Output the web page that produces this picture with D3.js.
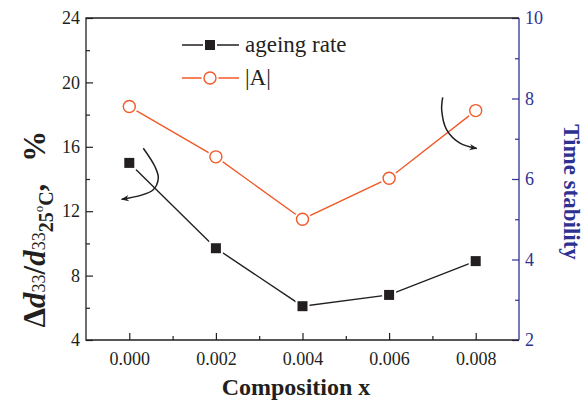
<!DOCTYPE html>
<html><head><meta charset="utf-8">
<script src="https://cdn.jsdelivr.net/npm/d3@7"></script>
<style>body{margin:0;background:#fff}svg{display:block}svg text{font-family:"Liberation Serif","Times New Roman",Times,serif !important}</style>
</head><body><svg id="c" width="584" height="401"></svg>
<script>
const composition = [0.000, 0.002, 0.004, 0.006, 0.008];
const ageingRate = [15.0, 9.7, 6.1, 6.8, 8.9];
const absA = [7.8, 6.55, 5.0, 6.02, 7.7];
const xTicks = [0.000, 0.002, 0.004, 0.006, 0.008];
const xMinorTicks = [0.001, 0.003, 0.005, 0.007];
const yLeftTicks = [4, 8, 12, 16, 20, 24];
const yLeftMinor = [6, 10, 14, 18, 22];
const yRightTicks = [2, 4, 6, 8, 10];
const yRightMinor = [3, 5, 7, 9];
const seriesNames = ["ageing rate", "|A|"];
// curved annotation arrows: [composition, left-axis value] and [composition, right-axis value]
const arrowLeft = [[0.000323,15.91],[0.000594,14.76],[0.00067,14.06],[0.000547,13.32],[-0.000176,12.74]];
const arrowRight = [[0.007238,8.03],[0.007215,7.71],[0.00733,7.22],[0.007637,6.89],[0.008023,6.76]];

const BLACK="#231f20", RED="#f15a29", BLUE="#2e3192";
const svg=d3.select("#c");
const L=86,R=519,T=18,B=340;
const x=d3.scaleLinear().domain([-0.001,0.009]).range([L,R]);
const yL=d3.scaleLinear().domain([4,24]).range([B,T]);
const yR=d3.scaleLinear().domain([2,10]).range([B,T]);

const defs=svg.append("defs");
defs.append("marker").attr("id","ah").attr("viewBox","0 0 10 10").attr("refX",9).attr("refY",5)
 .attr("markerWidth",11).attr("markerHeight",8).attr("markerUnits","userSpaceOnUse").attr("orient","auto")
 .append("path").attr("d","M0,1 L10,5 L0,9 L3,5 Z").attr("fill",BLACK);

function ax(gen,tr,cls){
  const g=svg.append("g").attr("transform",tr).attr("class",cls).call(gen);
  g.select(".domain").remove();
  g.attr("font-family",null);
  return g;
}
ax(d3.axisBottom(x).tickValues(xTicks).tickSize(-7).tickPadding(12).tickFormat(d3.format(".3f")),`translate(0,${B})`,"ax");
ax(d3.axisBottom(x).tickValues(xMinorTicks).tickSize(-4).tickFormat(""),`translate(0,${B})`,"ax");
ax(d3.axisLeft(yL).tickValues(yLeftTicks).tickSize(-7).tickPadding(6).tickFormat(d3.format("d")),`translate(${L},0)`,"ax");
ax(d3.axisLeft(yL).tickValues(yLeftMinor).tickSize(-4).tickFormat(""),`translate(${L},0)`,"ax");
ax(d3.axisRight(yR).tickValues(yRightTicks).tickSize(-7).tickPadding(6).tickFormat(d3.format("d")),`translate(${R},0)`,"ra");
ax(d3.axisRight(yR).tickValues(yRightMinor).tickSize(-4).tickFormat(""),`translate(${R},0)`,"ra");
svg.selectAll(".ax line").attr("stroke",BLACK).attr("stroke-width",1.2);
svg.selectAll(".ax text").attr("fill",BLACK);
svg.selectAll(".ra line").attr("stroke",BLUE).attr("stroke-width",1.2);
svg.selectAll(".ra text").attr("fill",BLUE);
svg.selectAll("g.tick text").style("font-size","18px");

// frame
svg.append("path").attr("d",`M${R},${T}H${L}V${B}H${R}`).attr("fill","none").attr("stroke",BLACK).attr("stroke-width",1.3);
svg.append("line").attr("x1",R).attr("x2",R).attr("y1",T).attr("y2",B).attr("stroke",BLUE).attr("stroke-width",1.3);

// lines
const lineL=d3.line().x((d,i)=>x(composition[i])).y(d=>yL(d));
const lineR=d3.line().x((d,i)=>x(composition[i])).y(d=>yR(d));
svg.append("path").attr("d",lineL(ageingRate)).attr("fill","none").attr("stroke",BLACK).attr("stroke-width",1.4);
svg.append("path").attr("d",lineR(absA)).attr("fill","none").attr("stroke",RED).attr("stroke-width",1.4);
// markers
svg.selectAll(".sq").data(ageingRate).join("rect").attr("x",(d,i)=>x(composition[i])-6).attr("y",d=>yL(d)-6)
 .attr("width",12).attr("height",12).attr("fill",BLACK).attr("stroke","#fff").attr("stroke-width",2);
svg.selectAll(".cbg").data(absA).join("circle").attr("cx",(d,i)=>x(composition[i])).attr("cy",d=>yR(d)).attr("r",8.5).attr("fill","#fff");
svg.selectAll(".ci").data(absA).join("circle").attr("cx",(d,i)=>x(composition[i])).attr("cy",d=>yR(d)).attr("r",6)
 .attr("fill","#fff").attr("stroke",RED).attr("stroke-width",1.4);

// arrows
const curve=d3.line().curve(d3.curveCatmullRom);
svg.append("path").attr("d",curve(arrowLeft.map(p=>[x(p[0]),yL(p[1])]))).attr("fill","none").attr("stroke",BLACK).attr("stroke-width",1.5).attr("marker-end","url(#ah)");
svg.append("path").attr("d",curve(arrowRight.map(p=>[x(p[0]),yR(p[1])]))).attr("fill","none").attr("stroke",BLACK).attr("stroke-width",1.5).attr("marker-end","url(#ah)");

// legend
const lg=svg.append("g");
const rows=[{c:BLACK,y:45,t:seriesNames[0],m:"sq"},{c:RED,y:78,t:seriesNames[1],m:"ci"}];
rows.forEach(r=>{
  lg.append("line").attr("x1",182).attr("x2",239).attr("y1",r.y).attr("y2",r.y).attr("stroke",r.c).attr("stroke-width",1.4);
  if(r.m==="sq"){lg.append("rect").attr("x",204).attr("y",r.y-6).attr("width",12).attr("height",12).attr("fill",BLACK).attr("stroke","#fff").attr("stroke-width",2);}
  else{lg.append("circle").attr("cx",210).attr("cy",r.y).attr("r",8.5).attr("fill","#fff");
       lg.append("circle").attr("cx",210).attr("cy",r.y).attr("r",6).attr("fill","#fff").attr("stroke",RED).attr("stroke-width",1.4);}
  lg.append("text").attr("x",245).attr("y",r.y+7).style("font-size","23px").attr("fill",BLACK).text(r.t);
});

// axis titles
svg.append("text").attr("x",296).attr("y",395).attr("text-anchor","middle").style("font-size","24px").style("font-weight","bold").attr("fill",BLACK).text("Composition x");
svg.append("text").attr("transform","translate(564,192) rotate(90)").attr("text-anchor","middle").style("font-size","23px").style("font-weight","bold").attr("fill",BLUE).text("Time stability");
const yt=svg.append("text").attr("transform","translate(45,229) rotate(-90)").attr("text-anchor","middle").style("font-size","31px").style("font-weight","bold").attr("fill",BLACK);
yt.append("tspan").text("Δ");
yt.append("tspan").style("font-style","italic").text("d");
yt.append("tspan").style("font-size","18px").style("font-weight","normal").text("33");
yt.append("tspan").text("/");
yt.append("tspan").style("font-style","italic").text("d");
yt.append("tspan").style("font-size","18px").style("font-weight","normal").text("33");
yt.append("tspan").style("font-size","20px").attr("dy",8).text("25");
yt.append("tspan").style("font-size","13px").style("font-weight","normal").attr("dy",-10).text("o");
yt.append("tspan").style("font-size","20px").attr("dy",10).text("C");
yt.append("tspan").attr("dy",-8).text(",");
yt.append("tspan").attr("dx",22).text("%");
</script></body></html>
